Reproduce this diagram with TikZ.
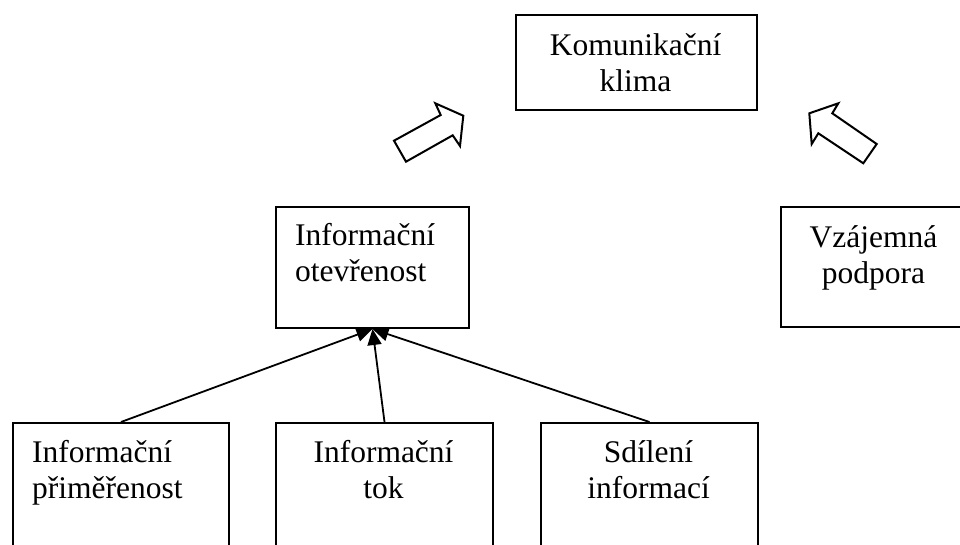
\documentclass[tikz,border=0pt]{standalone}
\usepackage{fontspec}
\setmainfont{Liberation Serif}
\usetikzlibrary{arrows.meta}
\begin{document}
\begin{tikzpicture}[x=1pt,y=-1pt,
  box/.style={draw,line width=2pt,inner sep=0pt,anchor=north west},
  txt/.style={inner sep=0pt,font=\fontsize{31.5}{36}\selectfont},
  link/.style={line width=1.8pt,-{Triangle[length=16pt,width=14pt]}},
  blockarrow/.style={draw,fill=white,line width=2pt,line join=miter}]
\useasboundingbox (0,0) rectangle (960,544);
\clip (0,0) rectangle (960,544);

% boxes
\node[box,minimum width=241pt,minimum height=95pt]  (klima) at (515,14)  {};
\node[box,minimum width=193pt,minimum height=121pt] (otev)  at (275,206) {};
\node[box,minimum width=188pt,minimum height=120pt] (podp)  at (780,206) {};
\node[box,minimum width=216pt,minimum height=140pt] (prim)  at (12,422)  {};
\node[box,minimum width=217pt,minimum height=140pt] (tok)   at (275,422) {};
\node[box,minimum width=217pt,minimum height=140pt] (sdil)  at (540,422) {};

% labels
\node[txt,text width=241pt,align=center,anchor=base] (tklima) at (635.5,55) {Komunikační\\klima};
\node[txt,text width=173pt,align=left,anchor=base west] (totev) at (295,245) {Informační\\otevřenost};
\node[txt,text width=188pt,align=center,anchor=base] (tpodp) at (873.5,247) {Vzájemná\\podpora};
\node[txt,text width=196pt,align=left,anchor=base west] (tprim) at (32,462) {Informační\\přiměřenost};
\node[txt,text width=217pt,align=center,anchor=base] (ttok) at (383.5,462) {Informační\\tok};
\node[txt,text width=217pt,align=center,anchor=base] (tsdil) at (648.5,462) {Sdílení\\informací};

% connectors into the openness box
\draw[link] (prim.north) -- (otev.south);
\draw[link] (tok.north)  -- (otev.south);
\draw[link] (sdil.north) -- (otev.south);

% hollow block arrows toward the climate box
\draw[blockarrow] (394,140.7) -- (440.7,115) -- (435.3,103.3) -- (463.3,115.7)
  -- (460,146) -- (452.7,135.3) -- (406,161.7) -- cycle;
\draw[blockarrow] (809.3,113.3) -- (838.3,103.3) -- (832.3,113.3) -- (876.7,144)
  -- (863.3,163.3) -- (818.3,133.3) -- (811.7,144) -- cycle;
\end{tikzpicture}
\end{document}
